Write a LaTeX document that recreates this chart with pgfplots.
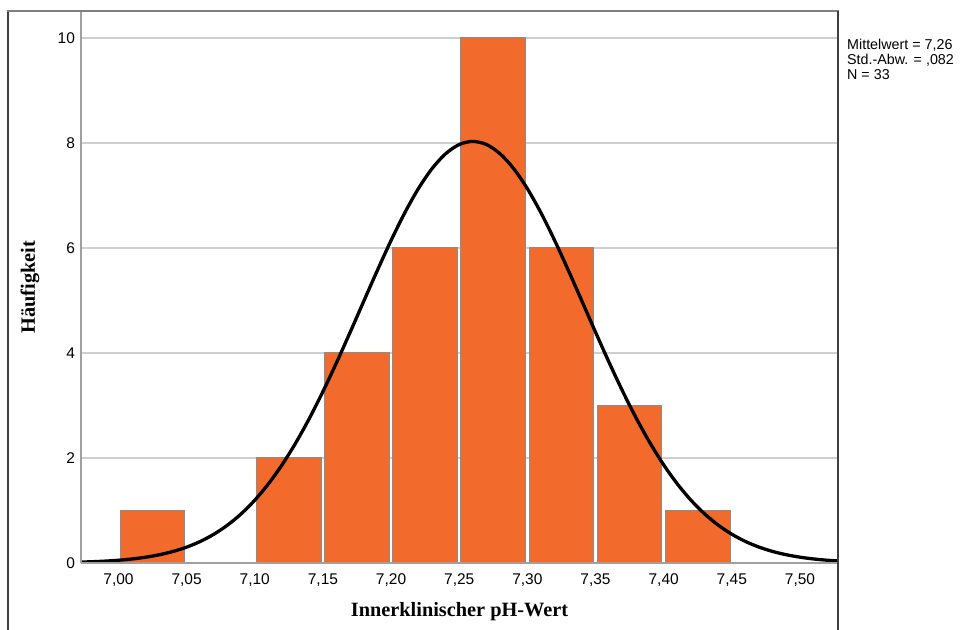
\documentclass[border=0pt]{standalone}
\usepackage{pgfplots}
\pgfplotsset{compat=1.18}
\usepackage{fontspec}
\setmainfont{Liberation Sans}
\newfontfamily\serifb{Liberation Serif}
\definecolor{barorange}{HTML}{F26A2C}
\definecolor{baredge}{HTML}{8C8C8C}
\definecolor{gridgray}{HTML}{CFCFCF}
\definecolor{axgray}{HTML}{A0A0A0}
\definecolor{framegray}{HTML}{808080}
\definecolor{framedark}{HTML}{404040}
\begin{document}
\begin{tikzpicture}
\begin{axis}[
  scale only axis,
  width=757bp, height=552bp,
  xmin=6.9725, xmax=7.5279,
  ymin=0, ymax=10.514,
  axis line style={draw=none},
  major tick length=0pt,
  xtick={7.00,7.05,7.10,7.15,7.20,7.25,7.30,7.35,7.40,7.45,7.50},
  ytick={0,2,4,6,8,10},
  ymajorgrids,
  grid style={gridgray, line width=1.2bp},
  xticklabel style={font=\fontsize{15.5bp}{17bp}\selectfont, yshift=-7.5bp,
    /pgf/number format/.cd, use comma, fixed, fixed zerofill, precision=2, assume math mode=true},
  yticklabel style={font=\fontsize{15.5bp}{17bp}\selectfont, xshift=-2.5bp,
    /pgf/number format/.cd, assume math mode=true},
  xlabel={\serifb\bfseries Innerklinischer pH-Wert},
  ylabel={\serifb\bfseries Häufigkeit},
  xlabel style={font=\fontsize{20.3bp}{22bp}\selectfont, at={(axis description cs:0.5,-0.0888)}, anchor=center},
  ylabel style={font=\fontsize{20.3bp}{22bp}\selectfont, at={(axis description cs:-0.0674,0.5)}, anchor=center},
  clip=true,
]
\addplot[ybar, bar width=0.0475, fill=barorange, draw=baredge, line width=1bp] coordinates {
  (7.025,1) (7.075,0) (7.125,2) (7.175,4) (7.225,6) (7.275,10) (7.325,6) (7.375,3) (7.425,1)
};
\addplot[black, line width=3.3bp, smooth] coordinates {
  (6.97,0.0154) (6.98,0.0236) (6.99,0.0355) (7.00,0.0526) (7.01,0.0770) (7.02,0.1108)
  (7.03,0.1572) (7.04,0.2196) (7.05,0.3023) (7.06,0.4101) (7.07,0.5481) (7.08,0.7217)
  (7.09,0.9362) (7.10,1.1967) (7.11,1.5069) (7.12,1.8695) (7.13,2.2853) (7.14,2.7521)
  (7.15,3.2656) (7.16,3.8175) (7.17,4.3966) (7.18,4.9893) (7.19,5.5773) (7.20,6.1440)
  (7.21,6.6678) (7.22,7.1292) (7.23,7.5102) (7.24,7.7947) (7.25,7.9705) (7.26,8.03)
  (7.27,7.9705) (7.28,7.7947) (7.29,7.5102) (7.30,7.1292) (7.31,6.6678) (7.32,6.1440)
  (7.33,5.5773) (7.34,4.9893) (7.35,4.3966) (7.36,3.8175) (7.37,3.2656) (7.38,2.7521)
  (7.39,2.2853) (7.40,1.8695) (7.41,1.5069) (7.42,1.1967) (7.43,0.9362) (7.44,0.7217)
  (7.45,0.5481) (7.46,0.4101) (7.47,0.3023) (7.48,0.2196) (7.49,0.1572) (7.50,0.1108)
  (7.51,0.0770) (7.52,0.0526) (7.53,0.0355)
};
\end{axis}
% axis lines
\draw[axgray, line width=1.5bp] (0,0) -- (0,552bp);
\draw[axgray, line width=1.5bp] (0,0) -- (757bp,0);
% outer frame
\draw[framedark, line width=1.3bp] (-73bp,-90bp) -- (-73bp,552bp);
\draw[framegray, line width=2bp] (-73.65bp,552bp) -- (757.65bp,552bp);
\draw[framedark, line width=1.3bp] (757bp,552bp) -- (757bp,-90bp);
% statistics
\node[anchor=north west, inner sep=0pt, align=left, font=\fontsize{14.3bp}{14.8bp}\selectfont]
  at (766bp,524bp) {Mittelwert = 7,26\\Std.-Abw. = ,082\\N = 33};
\pgfresetboundingbox
\useasboundingbox (-81bp,-67bp) rectangle (882bp,563bp);
\end{tikzpicture}
\end{document}
